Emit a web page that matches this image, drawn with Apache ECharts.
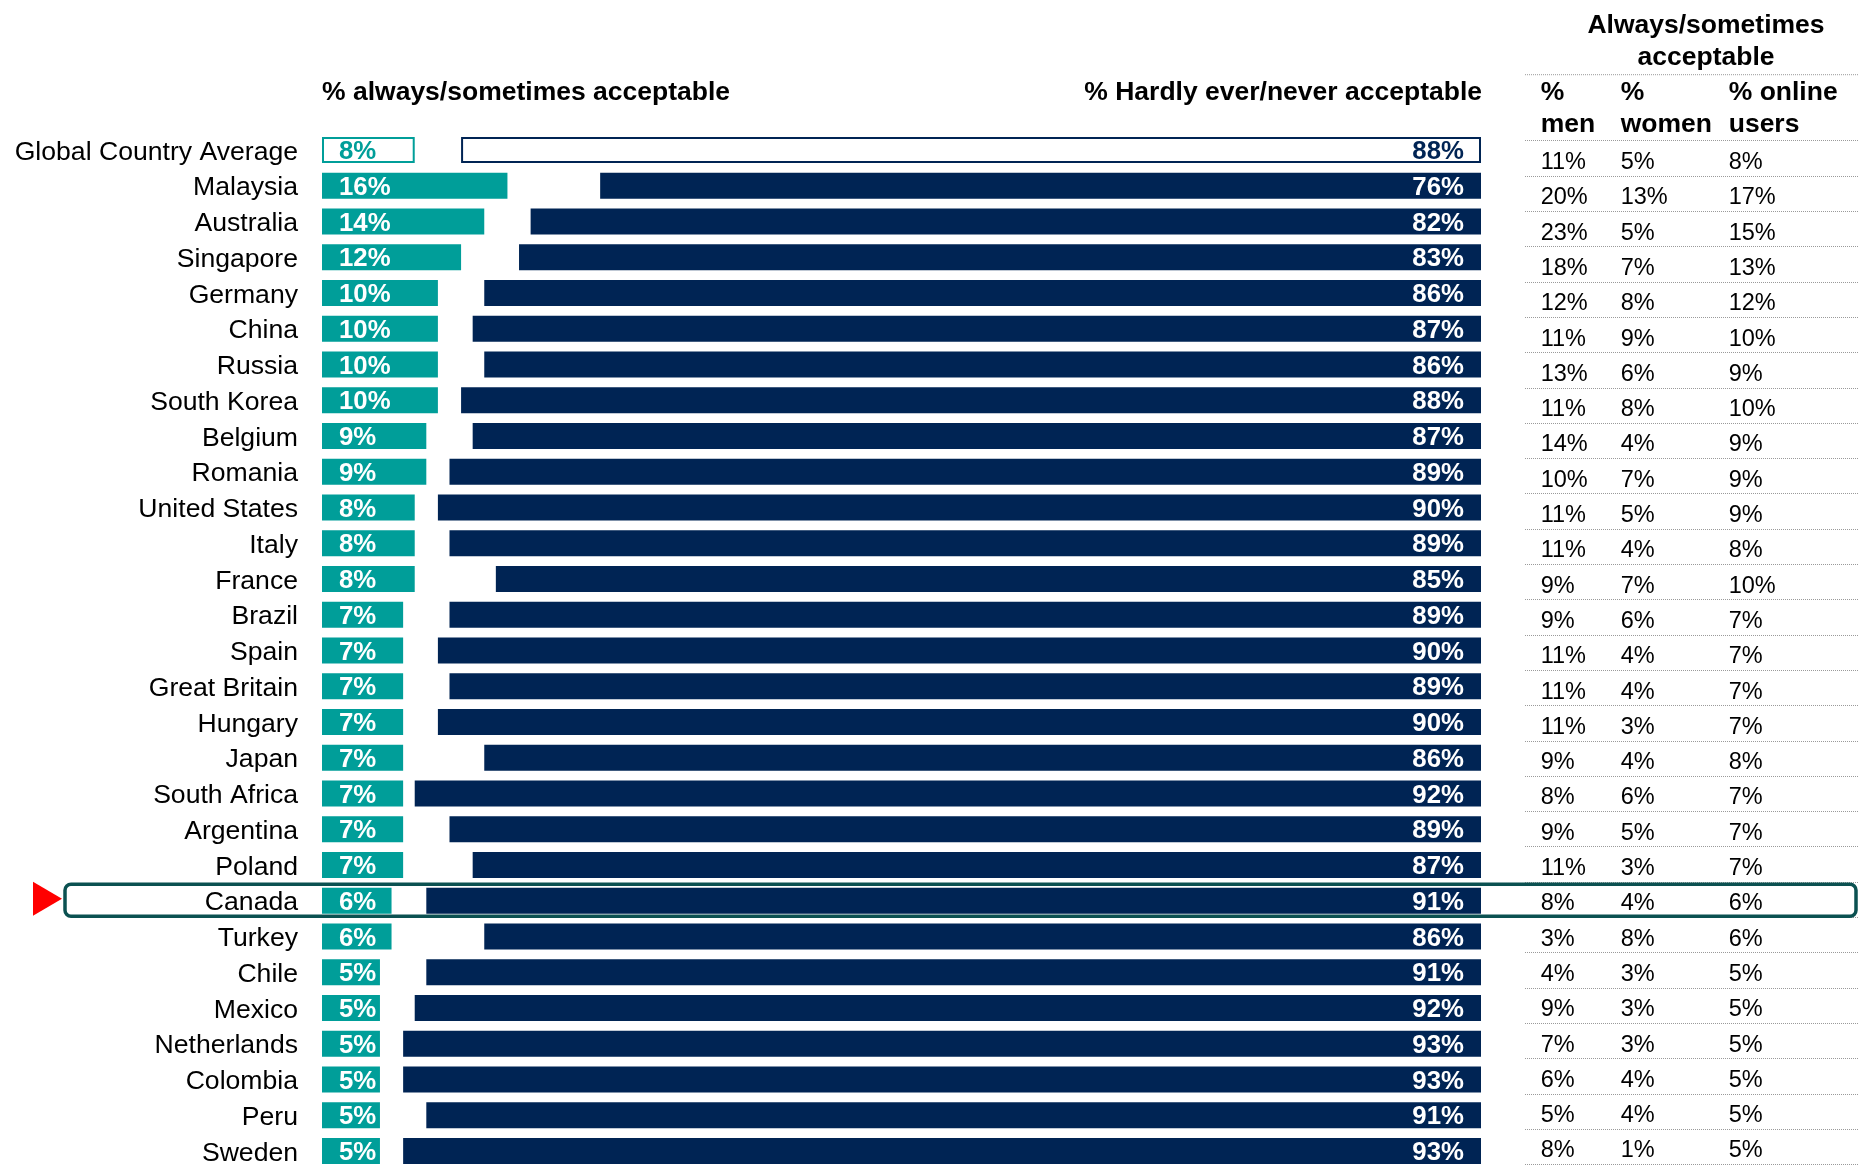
<!DOCTYPE html>
<html>
<head>
<meta charset="utf-8">
<title>Acceptability by country</title>
<script src="https://cdn.jsdelivr.net/npm/echarts@6/dist/echarts.min.js"></script>
<style>
  html, body { margin: 0; padding: 0; background: #ffffff; }
  #chart { width: 1859px; height: 1165px; }
</style>
</head>
<body>
<div id="chart"></div>
<script>
// ---- data -------------------------------------------------------------
const countries = [
  'Global Country Average', 'Malaysia', 'Australia', 'Singapore', 'Germany',
  'China', 'Russia', 'South Korea', 'Belgium', 'Romania', 'United States',
  'Italy', 'France', 'Brazil', 'Spain', 'Great Britain', 'Hungary', 'Japan',
  'South Africa', 'Argentina', 'Poland', 'Canada', 'Turkey', 'Chile',
  'Mexico', 'Netherlands', 'Colombia', 'Peru', 'Sweden'
];
// % always/sometimes acceptable
const acceptable = [8, 16, 14, 12, 10, 10, 10, 10, 9, 9, 8, 8, 8, 7, 7, 7, 7, 7, 7, 7, 7, 6, 6, 5, 5, 5, 5, 5, 5];
// % hardly ever/never acceptable
const notAcceptable = [88, 76, 82, 83, 86, 87, 86, 88, 87, 89, 90, 89, 85, 89, 90, 89, 90, 86, 92, 89, 87, 91, 86, 91, 92, 93, 93, 91, 93];
// always/sometimes acceptable, by group
const menAcceptable = [11, 20, 23, 18, 12, 11, 13, 11, 14, 10, 11, 11, 9, 9, 11, 11, 11, 9, 8, 9, 11, 8, 3, 4, 9, 7, 6, 5, 8];
const womenAcceptable = [5, 13, 5, 7, 8, 9, 6, 8, 4, 7, 5, 4, 7, 6, 4, 4, 3, 4, 6, 5, 3, 4, 8, 3, 3, 3, 4, 4, 1];
const onlineAcceptable = [8, 17, 15, 13, 12, 10, 9, 10, 9, 9, 9, 8, 10, 7, 7, 7, 7, 8, 7, 7, 7, 6, 6, 5, 5, 5, 5, 5, 5];

const leftTitle = '% always/sometimes acceptable';
const rightTitle = '% Hardly ever/never acceptable';
const tableTitle = ['Always/sometimes', 'acceptable'];
const tableColumns = [['%', 'men'], ['%', 'women'], ['% online', 'users']];
const averageRow = 'Global Country Average';
const highlightCountry = 'Canada';

// ---- styling ----------------------------------------------------------
const TEAL = '#009E99';
const NAVY = '#002454';
const BOX = '#0B5151';
const FONT = '"Liberation Sans", Arial, Helvetica, sans-serif';
const W = 1859;

const barGrid = { left: 322, right: 378, top: 132.1, height: 29 * 35.75 };
const tableGrid = { left: 1525, right: 0, top: 140.7, height: 29 * 35.3 };
const tableMargin = 15.7;
const colWidths = [80, 108];
const colX = [
  tableGrid.left + tableMargin,
  tableGrid.left + tableMargin + colWidths[0],
  tableGrid.left + tableMargin + colWidths[0] + colWidths[1]
];

const pct = v => v + '%';

const chart = echarts.init(document.getElementById('chart'), null, { renderer: 'canvas' });

function headerText(text, x, y, align) {
  return {
    type: 'text', x: x, y: y, z: 10,
    style: {
      text: text, fill: '#000', fontFamily: FONT, fontWeight: 'bold', fontSize: 26.5,
      align: align || 'left', verticalAlign: 'middle'
    }
  };
}

const headers = [
  headerText(leftTitle, barGrid.left, 92.5, 'left'),
  headerText(rightTitle, W - barGrid.right + 1, 92.5, 'right'),
  headerText(tableTitle[0], 1706, 25.5, 'center'),
  headerText(tableTitle[1], 1706, 57.5, 'center')
];
tableColumns.forEach((lines, c) => {
  headers.push(headerText(lines[0], colX[c], 92.5, 'left'));
  headers.push(headerText(lines[1], colX[c], 125, 'left'));
});
// dotted rule under the table's group title
headers.push({
  type: 'line', z: 10,
  shape: { x1: tableGrid.left, y1: 74.7, x2: W, y2: 74.7 },
  style: { stroke: '#9a9a9a', lineWidth: 1, lineDash: [1, 1] }
});

const barLabel = {
  show: true, fontFamily: FONT, fontWeight: 'bold', fontSize: 25.8,
  color: '#fff', textBorderWidth: 0, offset: [0, 2], formatter: p => pct(p.value)
};

chart.setOption({
  animation: false,
  backgroundColor: '#ffffff',
  grid: [
    Object.assign({ containLabel: false, outerBoundsMode: 'none' }, barGrid),
    Object.assign({ containLabel: false, outerBoundsMode: 'none' }, tableGrid)
  ],
  xAxis: [
    { type: 'value', gridIndex: 0, min: 0, max: 100, show: false },
    { type: 'value', gridIndex: 0, min: 0, max: 100, inverse: true, show: false },
    { type: 'value', gridIndex: 1, min: 0, max: 1, show: false }
  ],
  yAxis: [
    {
      type: 'category', gridIndex: 0, data: countries, inverse: true,
      axisLine: { show: false }, axisTick: { show: false }, splitLine: { show: false },
      axisLabel: {
        interval: 0, margin: 24, padding: [4.5, 0, 0, 0],
        color: '#000', fontFamily: FONT, fontSize: 26.6,
        formatter: v => '{n|' + v + '}',
        rich: { n: { fontFamily: FONT, fontSize: 26.6, color: '#000' } }
      }
    },
    {
      type: 'category', gridIndex: 1, data: countries, inverse: true,
      axisLine: { show: false }, axisTick: { show: false },
      splitLine: { show: true, interval: 0, lineStyle: { type: [1, 1], color: '#9a9a9a', width: 1 } },
      axisLabel: {
        inside: true, interval: 0, margin: tableMargin, padding: [8.5, 0, 0, 0],
        color: '#000', fontFamily: FONT, fontSize: 23.5,
        formatter: (v, i) => '{m|' + pct(menAcceptable[i]) + '}{w|' + pct(womenAcceptable[i]) + '}{o|' + pct(onlineAcceptable[i]) + '}',
        rich: {
          m: { width: colWidths[0], align: 'left', fontFamily: FONT, fontSize: 23.5, color: '#000' },
          w: { width: colWidths[1], align: 'left', fontFamily: FONT, fontSize: 23.5, color: '#000' },
          o: { align: 'left', fontFamily: FONT, fontSize: 23.5, color: '#000' }
        }
      }
    }
  ],
  series: [
    {
      name: leftTitle, type: 'bar', xAxisIndex: 0, yAxisIndex: 0,
      barWidth: 26, barGap: '-100%',
      itemStyle: { color: TEAL },
      label: Object.assign({ position: 'insideLeft', distance: 17 }, barLabel),
      data: acceptable.map((v, i) => countries[i] === averageRow
        ? { value: v, itemStyle: { color: '#fff', borderColor: TEAL, borderWidth: 2 }, label: { color: TEAL } }
        : v)
    },
    {
      name: rightTitle, type: 'bar', xAxisIndex: 1, yAxisIndex: 0,
      barWidth: 26, barGap: '-100%',
      itemStyle: { color: NAVY },
      label: Object.assign({ position: 'insideRight', distance: 17 }, barLabel),
      data: notAcceptable.map((v, i) => countries[i] === averageRow
        ? { value: v, itemStyle: { color: '#fff', borderColor: NAVY, borderWidth: 2 }, label: { color: NAVY } }
        : v)
    }
  ],
  graphic: headers
});

// outline and pointer for the highlighted country row
const cy = chart.convertToPixel({ yAxisIndex: 0 }, highlightCountry);
chart.setOption({
  graphic: headers.concat([
    {
      type: 'rect', z: 20,
      shape: { x: 65, y: cy - 16.5, width: 1791, height: 32, r: 6 },
      style: { fill: 'none', stroke: BOX, lineWidth: 3.5 }
    },
    {
      type: 'polygon', z: 20,
      shape: { points: [[33, cy - 19], [62, cy - 2], [33, cy + 15]] },
      style: { fill: '#FF0000' }
    }
  ])
});
</script>
</body>
</html>
